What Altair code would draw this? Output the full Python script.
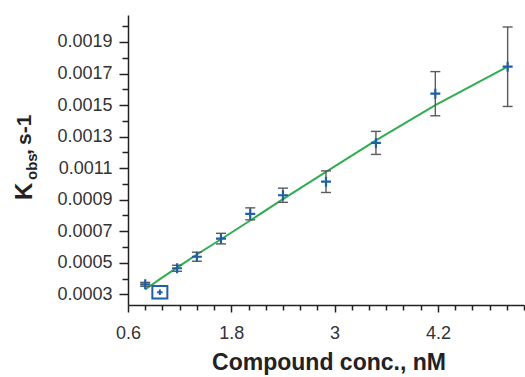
import altair as alt
import pandas as pd

# Observed rate constants vs. compound concentration
conc = [0.80, 0.97, 1.17, 1.40, 1.68, 2.02, 2.40, 2.90, 3.48, 4.17, 5.01]
kobs = [0.000363, 0.000313, 0.000465, 0.000538, 0.000653, 0.00081, 0.000928,
        0.001014, 0.00126, 0.001572, 0.001743]
err = [0.0000127, 0.0, 0.000019, 0.0000285, 0.0000336, 0.000038, 0.000045,
       0.0000685, 0.000073, 0.00014, 0.000252]
# fitted curve evaluated at each concentration
fit = [0.00033, 0.000396, 0.000469, 0.000552, 0.000649, 0.000768, 0.000903,
       0.001076, 0.001276, 0.0015, 0.001743]
excluded = [False, True, False, False, False, False, False, False, False, False, False]

x_ticks = [round(0.6 + 0.2 * i, 1) for i in range(24)]
y_ticks = [round(0.0003 + 0.0001 * i, 4) for i in range(18)]

df = pd.DataFrame({"conc": conc, "kobs": kobs, "err": err, "fit": fit, "excluded": excluded})
df["lo"] = df["kobs"] - df["err"]
df["hi"] = df["kobs"] + df["err"]

BLUE = "#1f5fa3"
GREEN = "#2eae50"
GRAY = "#5a5a5a"
FONT = "Liberation Sans"

x_scale = alt.Scale(domain=[0.6, 5.2], nice=False, zero=False)
y_scale = alt.Scale(domain=[0.000232, 0.002071], nice=False, zero=False)

x_axis = alt.Axis(
    values=x_ticks, tickCount=100, title=None, grid=False,
    labelExpr="((round(datum.value*10) - 6) % 12 == 0) ? format(datum.value, '.1~f') : ''",
    tickSize={"condition": {"test": "(round(datum.value*10) - 6) % 12 == 0", "value": 7}, "value": 5},
    labelPadding=12, labelFontSize=18, labelFont=FONT, labelColor="#333333",
    labelFlush=False, labelOverlap=False,
)
y_axis = alt.Axis(
    values=y_ticks, tickCount=100, title=None, grid=False,
    labelExpr="(round(datum.value*10000) % 2 == 1) ? format(datum.value, '.4f') : ''",
    tickSize={"condition": {"test": "round(datum.value*10000) % 2 == 1", "value": 9}, "value": 6},
    labelPadding=7, labelFontSize=18, labelFont=FONT, labelColor="#333333",
    labelFlush=False, labelOverlap=False,
)

base = alt.Chart(df)

line = base.mark_line(color=GREEN, strokeWidth=2).encode(
    x=alt.X("conc:Q", scale=x_scale, axis=x_axis),
    y=alt.Y("fit:Q", scale=y_scale, axis=y_axis),
)

bars_src = base.transform_filter("datum.err > 0")
bars = bars_src.mark_rule(color=GRAY, strokeWidth=1.4).encode(
    x="conc:Q", y="lo:Q", y2="hi:Q"
)
cap_shape = "M-1,0L1,0"
cap_lo = bars_src.mark_point(shape=cap_shape, size=100, color=GRAY, strokeWidth=1.4,
                             filled=False, opacity=1).encode(x="conc:Q", y="lo:Q")
cap_hi = bars_src.mark_point(shape=cap_shape, size=100, color=GRAY, strokeWidth=1.4,
                             filled=False, opacity=1).encode(x="conc:Q", y="hi:Q")

plus = "M-1,0L1,0M0,-1L0,1"
pts = base.transform_filter("!datum.excluded").mark_point(
    shape=plus, size=100, color=BLUE, strokeWidth=2.2, filled=False, opacity=1
).encode(x="conc:Q", y="kobs:Q")

out_src = base.transform_filter("datum.excluded")
out_pt = out_src.mark_point(
    shape=plus, size=30, color=BLUE, strokeWidth=2, filled=False, opacity=1
).encode(x="conc:Q", y="kobs:Q")
out_box = out_src.mark_point(
    shape="M-1,-0.82L1,-0.82L1,0.82L-1,0.82Z", size=225, color=BLUE, strokeWidth=2,
    filled=False, opacity=1
).encode(x="conc:Q", y="kobs:Q")

# axis titles: x title and a y title with subscript
def label(text, x, y, size, angle=0, align="left"):
    return alt.Chart(pd.DataFrame({"t": [text]})).mark_text(
        font=FONT, fontSize=size, fontWeight="bold", color="#222222",
        angle=angle, align=align, baseline="alphabetic"
    ).encode(x=alt.value(x), y=alt.value(y), text="t:N")

x_title = label("Compound conc., nM", 201, 355, 23, align="center")
y_k = label("K", -96, 185, 24, angle=270)
y_obs = label("obs", -91.5, 165, 15, angle=270)
y_comma = label(",", -97, 140, 21, angle=270)
y_unit = label("s-1", -97, 130, 21, angle=270)

chart = alt.layer(
    line, bars, cap_lo, cap_hi, pts, out_box, out_pt,
    x_title, y_k, y_obs, y_comma, y_unit
).properties(
    width=396, height=290,
    padding={"left": 128, "top": 15, "right": 1, "bottom": 72},
    autosize=alt.AutoSizeParams(type="none"),
).configure_view(stroke=None).configure_axis(
    domainColor="#222222", domainWidth=1.5, tickColor="#222222", tickWidth=1.5,
)

chart.save("out.html", embed_options={"renderer": "svg", "actions": False})
